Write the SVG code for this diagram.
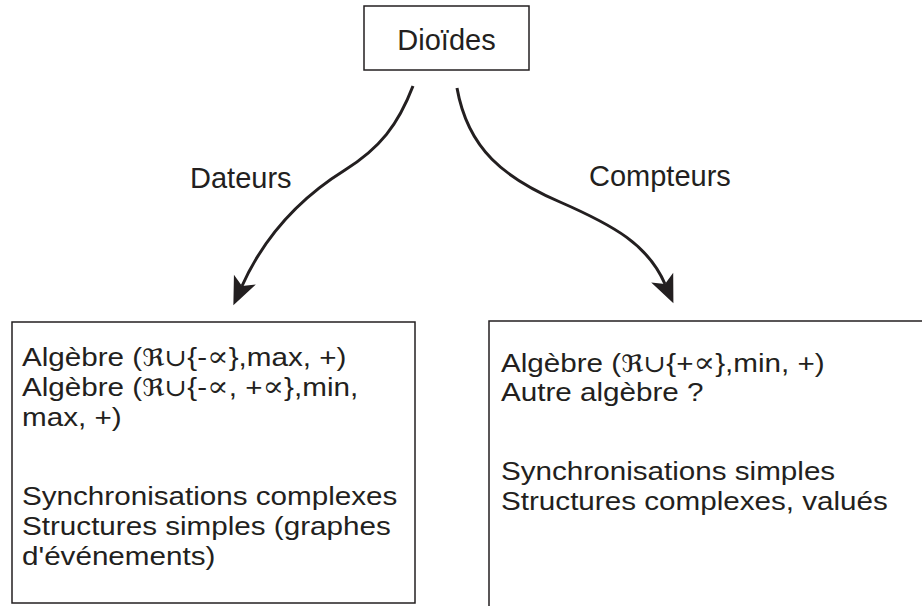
<svg xmlns="http://www.w3.org/2000/svg" width="922" height="606" viewBox="0 0 922 606">
  <style>
    .box { fill: #ffffff; stroke: #231f20; stroke-width: 1.5; }
    .lbl { font-family: "Liberation Sans", Arial, Helvetica, sans-serif; font-size: 29px; fill: #231f20; }
    .body { font-family: "Liberation Sans", Arial, Helvetica, sans-serif; font-size: 26px; fill: #231f20; }
    .sym { font-family: "DejaVu Serif", "DejaVu Sans", serif; font-size: 24px; }
    .inf { font-family: "DejaVu Serif", "DejaVu Sans", serif; font-size: 28px; }
    .edge { fill: none; stroke: #231f20; stroke-width: 3; }
  </style>
  <defs>
    <marker id="arrowhead" markerUnits="userSpaceOnUse" viewBox="-30 -13 32 26" markerWidth="32" markerHeight="26" refX="-21" refY="0" orient="auto">
      <path d="M0,0 L-28,-12 L-21,0 L-28,12 Z" fill="#231f20"/>
    </marker>
  </defs>

  <rect width="922" height="606" fill="#ffffff"/>

  <!-- root node -->
  <g id="dioides">
    <rect class="box" x="364" y="6" width="165" height="64"/>
    <text class="lbl" x="446.5" y="50" text-anchor="middle">Dioïdes</text>
  </g>

  <!-- connectors -->
  <g id="connectors">
    <path class="edge" d="M413,86 C398,125 380,148 345,170 C300,198 265,235 242,286" marker-end="url(#arrowhead)"/>
    <path class="edge" d="M457,88 C468,150 505,178 560,202 C615,226 648,245 665,284" marker-end="url(#arrowhead)"/>
    <text class="lbl" x="190" y="188">Dateurs</text>
    <text class="lbl" x="589" y="186">Compteurs</text>
  </g>

  <!-- left node: dateurs -->
  <g id="dateurs">
    <rect class="box" x="12" y="322" width="403" height="281"/>
    <g class="body" transform="translate(22,0) scale(1.14,1)">
      <text x="0" y="366">Algèbre (<tspan class="sym">ℜ∪</tspan>{-<tspan class="inf">∝</tspan>},max, +)</text>
      <text x="0" y="396">Algèbre (<tspan class="sym">ℜ∪</tspan>{-<tspan class="inf">∝</tspan>, +<tspan class="inf">∝</tspan>},min,</text>
      <text x="0" y="426">max, +)</text>
      <text x="0" y="505">Synchronisations complexes</text>
      <text x="0" y="535">Structures simples (graphes</text>
      <text x="0" y="565">d'événements)</text>
    </g>
  </g>

  <!-- right node: compteurs -->
  <g id="compteurs">
    <rect class="box" x="489" y="321" width="460" height="300"/>
    <g class="body" transform="translate(501,0) scale(1.14,1)">
      <text x="0" y="372">Algèbre (<tspan class="sym">ℜ∪</tspan>{+<tspan class="inf">∝</tspan>},min, +)</text>
      <text x="0" y="401">Autre algèbre ?</text>
      <text x="0" y="480">Synchronisations simples</text>
      <text x="0" y="510">Structures complexes, valués</text>
    </g>
  </g>
</svg>
